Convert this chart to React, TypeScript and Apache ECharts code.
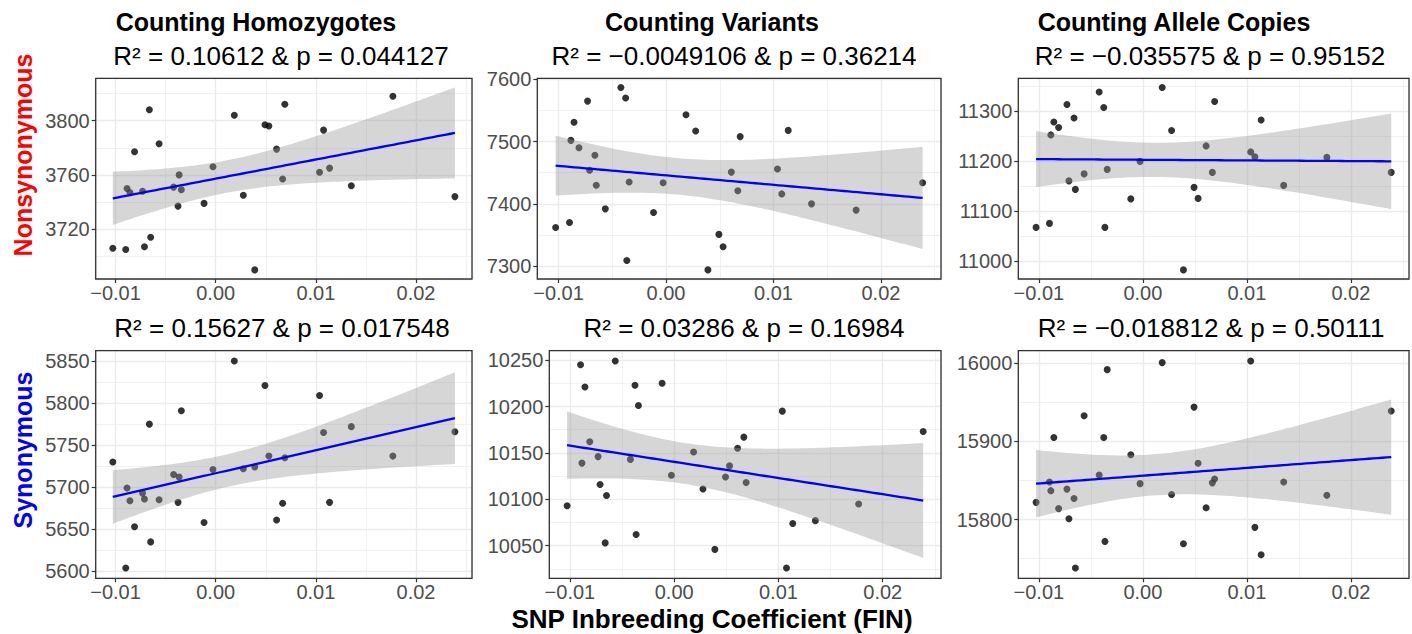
import React, { useEffect, useRef } from "react";
import * as echarts from "echarts";

// SNP inbreeding coefficient (FIN) for each of the 30 samples (shared x values)
const FIN = [
  -0.01027, -0.00898, -0.00885, -0.00856, -0.0081, -0.0073, -0.00711, -0.00662, -0.00649, -0.00565,
  -0.0042, -0.00376, -0.00365, -0.00343, -0.00116, -0.00027, 0.00186, 0.00276, 0.0039, 0.00492,
  0.00531, 0.00608, 0.00668, 0.0069, 0.01037, 0.01077, 0.01137, 0.01354, 0.01769, 0.02388,
];

// Nonsynonymous counts
const HOM_NONSYN = [
  3706, 3705, 3750, 3747, 3777, 3748, 3707, 3808, 3714, 3783,
  3751, 3737, 3760, 3749, 3739, 3766, 3804, 3745, 3690, 3797,
  3796, 3779, 3757, 3812, 3762, 3793, 3765, 3752, 3818, 3744,
];
const VAR_NONSYN = [
  7362, 7370, 7502, 7531, 7490, 7565, 7454, 7478, 7430, 7392,
  7587, 7570, 7309, 7435, 7386, 7434, 7543, 7517, 7294, 7351,
  7331, 7451, 7421, 7508, 7456, 7416, 7518, 7400, 7390, 7434,
];
const ALLELE_NONSYN = [
  11068, 11076, 11253, 11279, 11268, 11314, 11161, 11287, 11144, 11175,
  11339, 11308, 11068, 11184, 11125, 11200, 11348, 11262, 10983, 11148,
  11126, 11231, 11178, 11320, 11219, 11209, 11283, 11152, 11208, 11178,
];

// Synonymous counts
const HOM_SYN = [
  5730, 5604, 5699, 5684, 5653, 5693, 5686, 5775, 5635, 5685,
  5715, 5682, 5712, 5791, 5658, 5721, 5850, 5722, 5724, 5821,
  5737, 5661, 5681, 5735, 5809, 5765, 5682, 5772, 5737, 5766,
];
const VAR_SYN = [
  10093, 10245, 10139, 10221, 10162, 10146, 10116, 10053, 10104, 10249,
  10143, 10223, 10062, 10201, 10225, 10126, 10151, 10111, 10046, 10124,
  10136, 10155, 10167, 10118, 10195, 10026, 10074, 10077, 10095, 10173,
];
const ALLELE_SYN = [
  15822, 15848, 15837, 15905, 15814, 15839, 15801, 15827, 15738, 15933,
  15857, 15905, 15772, 15992, 15883, 15846, 16001, 15832, 15769, 15944,
  15872, 15815, 15847, 15852, 16003, 15790, 15755, 15848, 15831, 15939,
];

const COLUMN_TITLES = ["Counting Homozygotes", "Counting Variants", "Counting Allele Copies"];
const ROW_LABELS = ["Nonsynonymous", "Synonymous"];
const STAT_LABELS = [
  "R² = 0.10612 & p = 0.044127",
  "R² = −0.0049106 & p = 0.36214",
  "R² = −0.035575 & p = 0.95152",
  "R² = 0.15627 & p = 0.017548",
  "R² = 0.03286 & p = 0.16984",
  "R² = −0.018812 & p = 0.50111",
];
const X_TITLE = "SNP Inbreeding Coefficient (FIN)";
const X_STEP = 0.01;
const Y_STEPS = [40, 100, 100, 50, 50, 100];

const PANEL_Y = [HOM_NONSYN, VAR_NONSYN, ALLELE_NONSYN, HOM_SYN, VAR_SYN, ALLELE_SYN];

// layout (px)
const GRIDS = [
  { left: 95.7, top: 78.3, width: 376.3, height: 200.7 },
  { left: 537.3, top: 78.3, width: 403.7, height: 200.7 },
  { left: 1018.3, top: 78.3, width: 390.7, height: 200.7 },
  { left: 95.7, top: 350.7, width: 376.3, height: 227.6 },
  { left: 549.3, top: 350.7, width: 391.7, height: 227.6 },
  { left: 1018.3, top: 350.7, width: 390.7, height: 227.6 },
];
const TITLE_X = [256, 712, 1174];
const STAT_X = [281, 734, 1210, 282, 744, 1211];
const STAT_Y = [56, 56, 56, 328, 328, 328];

const FONT = '"Liberation Sans", Arial, Helvetica, sans-serif';

function fitLm(xs: number[], ys: number[]) {
  const n = xs.length;
  const mx = xs.reduce((a, b) => a + b, 0) / n;
  const my = ys.reduce((a, b) => a + b, 0) / n;
  let sxx = 0;
  let sxy = 0;
  for (let i = 0; i < n; i++) {
    sxx += (xs[i] - mx) ** 2;
    sxy += (xs[i] - mx) * (ys[i] - my);
  }
  const b = sxy / sxx;
  const a = my - b * mx;
  let sse = 0;
  for (let i = 0; i < n; i++) sse += (ys[i] - a - b * xs[i]) ** 2;
  const s = Math.sqrt(sse / (n - 2));
  const t = 2.0484; // qt(0.975, 28)
  const xmin = Math.min(...xs);
  const xmax = Math.max(...xs);
  const upper: number[][] = [];
  const lower: number[][] = [];
  const line: number[][] = [];
  const m = 80;
  for (let k = 0; k < m; k++) {
    const x = xmin + ((xmax - xmin) * k) / (m - 1);
    const yh = a + b * x;
    const se = s * Math.sqrt(1 / n + (x - mx) ** 2 / sxx);
    upper.push([x, yh + t * se]);
    lower.push([x, yh - t * se]);
    line.push([x, yh]);
  }
  return { upper, lower, line };
}

function fmtX(v: number) {
  const r = Math.round(v * 100) / 100;
  if (Math.abs(r) < 1e-9) return "0.00";
  return (r < 0 ? "\u2212" : "") + Math.abs(r).toFixed(2);
}

export default function App() {
  const ref = useRef<HTMLDivElement>(null);

  useEffect(() => {
    if (!ref.current) return;
    const chart = echarts.init(ref.current, null, { renderer: "svg" });

    const xmin = Math.min(...FIN);
    const xmax = Math.max(...FIN);
    const xpad = (xmax - xmin) * 0.05;

    const grids: any[] = [];
    const xAxes: any[] = [];
    const yAxes: any[] = [];
    const series: any[] = [];

    PANEL_Y.forEach((ys, i) => {
      const fit = fitLm(FIN, ys);
      const lo = Math.min(...ys, ...fit.lower.map((p) => p[1]));
      const hi = Math.max(...ys, ...fit.upper.map((p) => p[1]));
      const ypad = (hi - lo) * 0.05;

      grids.push({
        ...GRIDS[i],
        containLabel: false,
        outerBoundsMode: "none",
        show: true,
        z: 10,
        backgroundColor: "transparent",
        borderColor: "#333333",
        borderWidth: 1.3,
      });

      xAxes.push({
        gridIndex: i,
        type: "value",
        min: xmin - xpad,
        max: xmax + xpad,
        minInterval: X_STEP,
        maxInterval: X_STEP,
        axisLine: { show: false, onZero: false },
        axisTick: { show: true, length: 4, lineStyle: { color: "#333333", width: 1.2 } },
        axisLabel: {
          show: true,
          margin: 4,
          color: "#4D4D4D",
          fontSize: 20,
          fontFamily: FONT,
          showMinLabel: false,
          showMaxLabel: false,
          formatter: (v: number) => fmtX(v),
        },
        splitLine: { show: true, lineStyle: { color: "#EBEBEB", width: 1.4 } },
        minorTick: { show: false, splitNumber: 2 },
        minorSplitLine: { show: true, lineStyle: { color: "#EBEBEB", width: 0.7 } },
      });

      yAxes.push({
        gridIndex: i,
        type: "value",
        min: lo - ypad,
        max: hi + ypad,
        minInterval: Y_STEPS[i],
        maxInterval: Y_STEPS[i],
        axisLine: { show: false, onZero: false },
        axisTick: { show: true, length: 4, lineStyle: { color: "#333333", width: 1.2 } },
        axisLabel: {
          show: true,
          margin: 6,
          color: "#4D4D4D",
          fontSize: 20,
          fontFamily: FONT,
          showMinLabel: false,
          showMaxLabel: false,
          formatter: (v: number) => String(Math.round(v)),
        },
        splitLine: { show: true, lineStyle: { color: "#EBEBEB", width: 1.4 } },
        minorTick: { show: false, splitNumber: 2 },
        minorSplitLine: { show: true, lineStyle: { color: "#EBEBEB", width: 0.7 } },
      });

      series.push({
        type: "scatter",
        xAxisIndex: i,
        yAxisIndex: i,
        data: FIN.map((x, k) => [x, ys[k]]),
        symbol: "circle",
        symbolSize: 7,
        itemStyle: { color: "#000000" },
        silent: true,
        z: 2,
      });

      const upper = fit.upper;
      const lower = fit.lower;
      series.push({
        type: "custom",
        xAxisIndex: i,
        yAxisIndex: i,
        silent: true,
        z: 3,
        clip: false,
        data: [[fit.line[40][0], fit.line[40][1]]],
        renderItem: (_params: any, api: any) => {
          const pts = upper
            .map((p) => api.coord(p))
            .concat(lower.slice().reverse().map((p) => api.coord(p)));
          return {
            type: "polygon",
            shape: { points: pts },
            style: { fill: "rgba(153,153,153,0.4)", stroke: "none" },
          };
        },
      });

      series.push({
        type: "line",
        xAxisIndex: i,
        yAxisIndex: i,
        data: fit.line,
        showSymbol: false,
        symbol: "none",
        silent: true,
        lineStyle: { color: "#0000FF", width: 2.3 },
        z: 4,
      });
    });

    const texts: any[] = [];
    COLUMN_TITLES.forEach((t, c) => {
      texts.push({
        type: "text",
        x: TITLE_X[c],
        y: 22,
        style: {
          text: t,
          font: `bold 25px ${FONT}`,
          fill: "#000000",
          align: "center",
          verticalAlign: "middle",
          textAlign: "center",
          textVerticalAlign: "middle",
        },
      });
    });
    STAT_LABELS.forEach((t, i) => {
      texts.push({
        type: "text",
        x: STAT_X[i],
        y: STAT_Y[i],
        style: {
          text: t,
          font: `26px ${FONT}`,
          fill: "#000000",
          align: "center",
          verticalAlign: "middle",
          textAlign: "center",
          textVerticalAlign: "middle",
        },
      });
    });
    const rowColors = ["#FF0000", "#0000FF"];
    const rowY = [155, 450];
    ROW_LABELS.forEach((t, r) => {
      texts.push({
        type: "text",
        x: 23,
        y: rowY[r],
        rotation: Math.PI / 2,
        style: {
          text: t,
          font: `bold 25px ${FONT}`,
          fill: rowColors[r],
          align: "center",
          verticalAlign: "middle",
          textAlign: "center",
          textVerticalAlign: "middle",
        },
      });
    });
    texts.push({
      type: "text",
      x: 712,
      y: 619,
      style: {
        text: X_TITLE,
        font: `bold 26px ${FONT}`,
        fill: "#000000",
        align: "center",
        verticalAlign: "middle",
        textAlign: "center",
        textVerticalAlign: "middle",
      },
    });

    chart.setOption({
      animation: false,
      backgroundColor: "#FFFFFF",
      grid: grids,
      xAxis: xAxes,
      yAxis: yAxes,
      series,
      graphic: { elements: texts },
    });

    return () => {
      chart.dispose();
    };
  }, []);

  return (
    <div
      ref={ref}
      style={{ position: "absolute", left: 0, top: 0, width: 1412, height: 634, background: "#fff" }}
    />
  );
}
